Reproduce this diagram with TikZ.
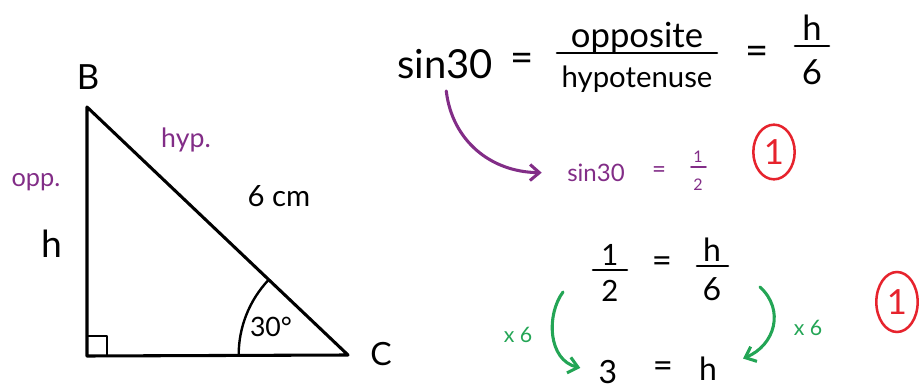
\documentclass[tikz,border=0pt]{standalone}
\usepackage{fontspec}
\setmainfont{Lato}
\usetikzlibrary{arrows.meta,shapes.geometric,angles}
\definecolor{penpurple}{RGB}{130,45,135}
\definecolor{pengreen}{RGB}{35,165,85}
\definecolor{penred}{RGB}{230,35,45}
\tikzset{
  pen/.style={line width=2.3pt, line cap=round, line join=round},
  bar/.style={line width=1.9pt, line cap=round},
  fs/.style={font=\fontsize{#1}{#1}\selectfont},
  mark1/.style={ellipse, draw=penred, text=penred, line width=1.9pt,
    inner sep=0pt, minimum width=31pt, font=\fontsize{26}{26}\selectfont},
  barb/.style={-{Straight Barb[length=7pt,width=12pt]}}
}

\begin{document}
\begin{tikzpicture}[x=0.75pt, y=-0.75pt, every node/.style={inner sep=1pt}]
  \useasboundingbox (0,0) rectangle (921,391);

  % triangle ABC
  \coordinate (B) at (87,107);
  \coordinate (A) at (87,356);
  \coordinate (C) at (348,355);
  \draw[pen] (B) -- (A) -- (C) -- cycle;
  \draw[pen, line width=1.8pt] (107,356) |- (87,336);
  \pic[draw, pen, line width=1.8pt, angle radius=82pt] {angle=B--C--A};

  \node[fs=26] (lB) at (88,77) {B};
  \node[fs=24] (lC) at (381,354) {C};
  \node[fs=20, text=penpurple] (lhyp) at (186,140) {hyp.};
  \node[fs=19, text=penpurple] (lopp) at (36,182) {opp.};
  \node[fs=28] (lh) at (52,244) {h};
  \node[fs=22] (lsix) at (279,196) {6 cm};
  \node[fs=20] (lang) at (271,327) {30°};

  % sin30 = opposite / hypotenuse = h/6
  \node[fs=30] (sinA) at (445,64) {sin30};
  \node[fs=30] (eqA) at (522,62) {=};
  \node[fs=26] (numA) at (637,38) {opposite};
  \node[fs=22] (denA) at (637,79) {hypotenuse};
  \draw[bar] (557,53) -- (717,53);
  \node[fs=30] (eqB) at (757,55) {=};
  \node[fs=26] (numB) at (812,28) {h};
  \node[fs=26] (denB) at (812,72) {6};
  \draw[bar] (795,46) -- (829,46);

  % sin30 = 1/2
  \node[fs=18, text=penpurple] (sinB) at (596,173) {sin30};
  \node[fs=18, text=penpurple] (eqC) at (659,172) {=};
  \node[fs=12, text=penpurple] (numC) at (698,157) {1};
  \node[fs=12, text=penpurple] (denC) at (698,185) {2};
  \draw[bar, penpurple, line width=1.3pt] (691,167) -- (706,167);
  \node[mark1, minimum height=41pt] (mkA) at (774,152) {1};
  \draw[pen, penpurple, barb, shorten <=8pt, shorten >=18pt]
    (sinA.south) .. controls (452,140) and (490,172) .. (sinB.west);

  % 1/2 = h/6
  \node[fs=22] (numD) at (610,255) {1};
  \node[fs=22] (denD) at (610,291) {2};
  \draw[bar] (593,270) -- (627,270);
  \node[fs=26] (eqD) at (662,265) {=};
  \node[fs=24] (numE) at (712,250) {h};
  \node[fs=24] (denE) at (712,289) {6};
  \draw[bar] (697,266) -- (728,266);
  \node[mark1, minimum height=45pt] (mkB) at (897,302) {1};

  % 3 = h
  \node[fs=24] (three) at (608,372) {3};
  \node[fs=26] (eqE) at (663,370) {=};
  \node[fs=24] (hE) at (708,369) {h};

  % times 6 arrows
  \coordinate (gA) at (563,292);
  \coordinate (gB) at (760,287);
  \draw[pen, pengreen, barb, shorten >=13pt]
    (gA) .. controls (546,315) and (548,360) .. (three.west);
  \draw[pen, pengreen, barb, shorten >=20pt]
    (gB) .. controls (785,310) and (775,345) .. (hE.east);
  \node[fs=16, text=pengreen] (xA) at (518,335) {x 6};
  \node[fs=16, text=pengreen] (xB) at (808,328) {x 6};
\end{tikzpicture}
\end{document}
